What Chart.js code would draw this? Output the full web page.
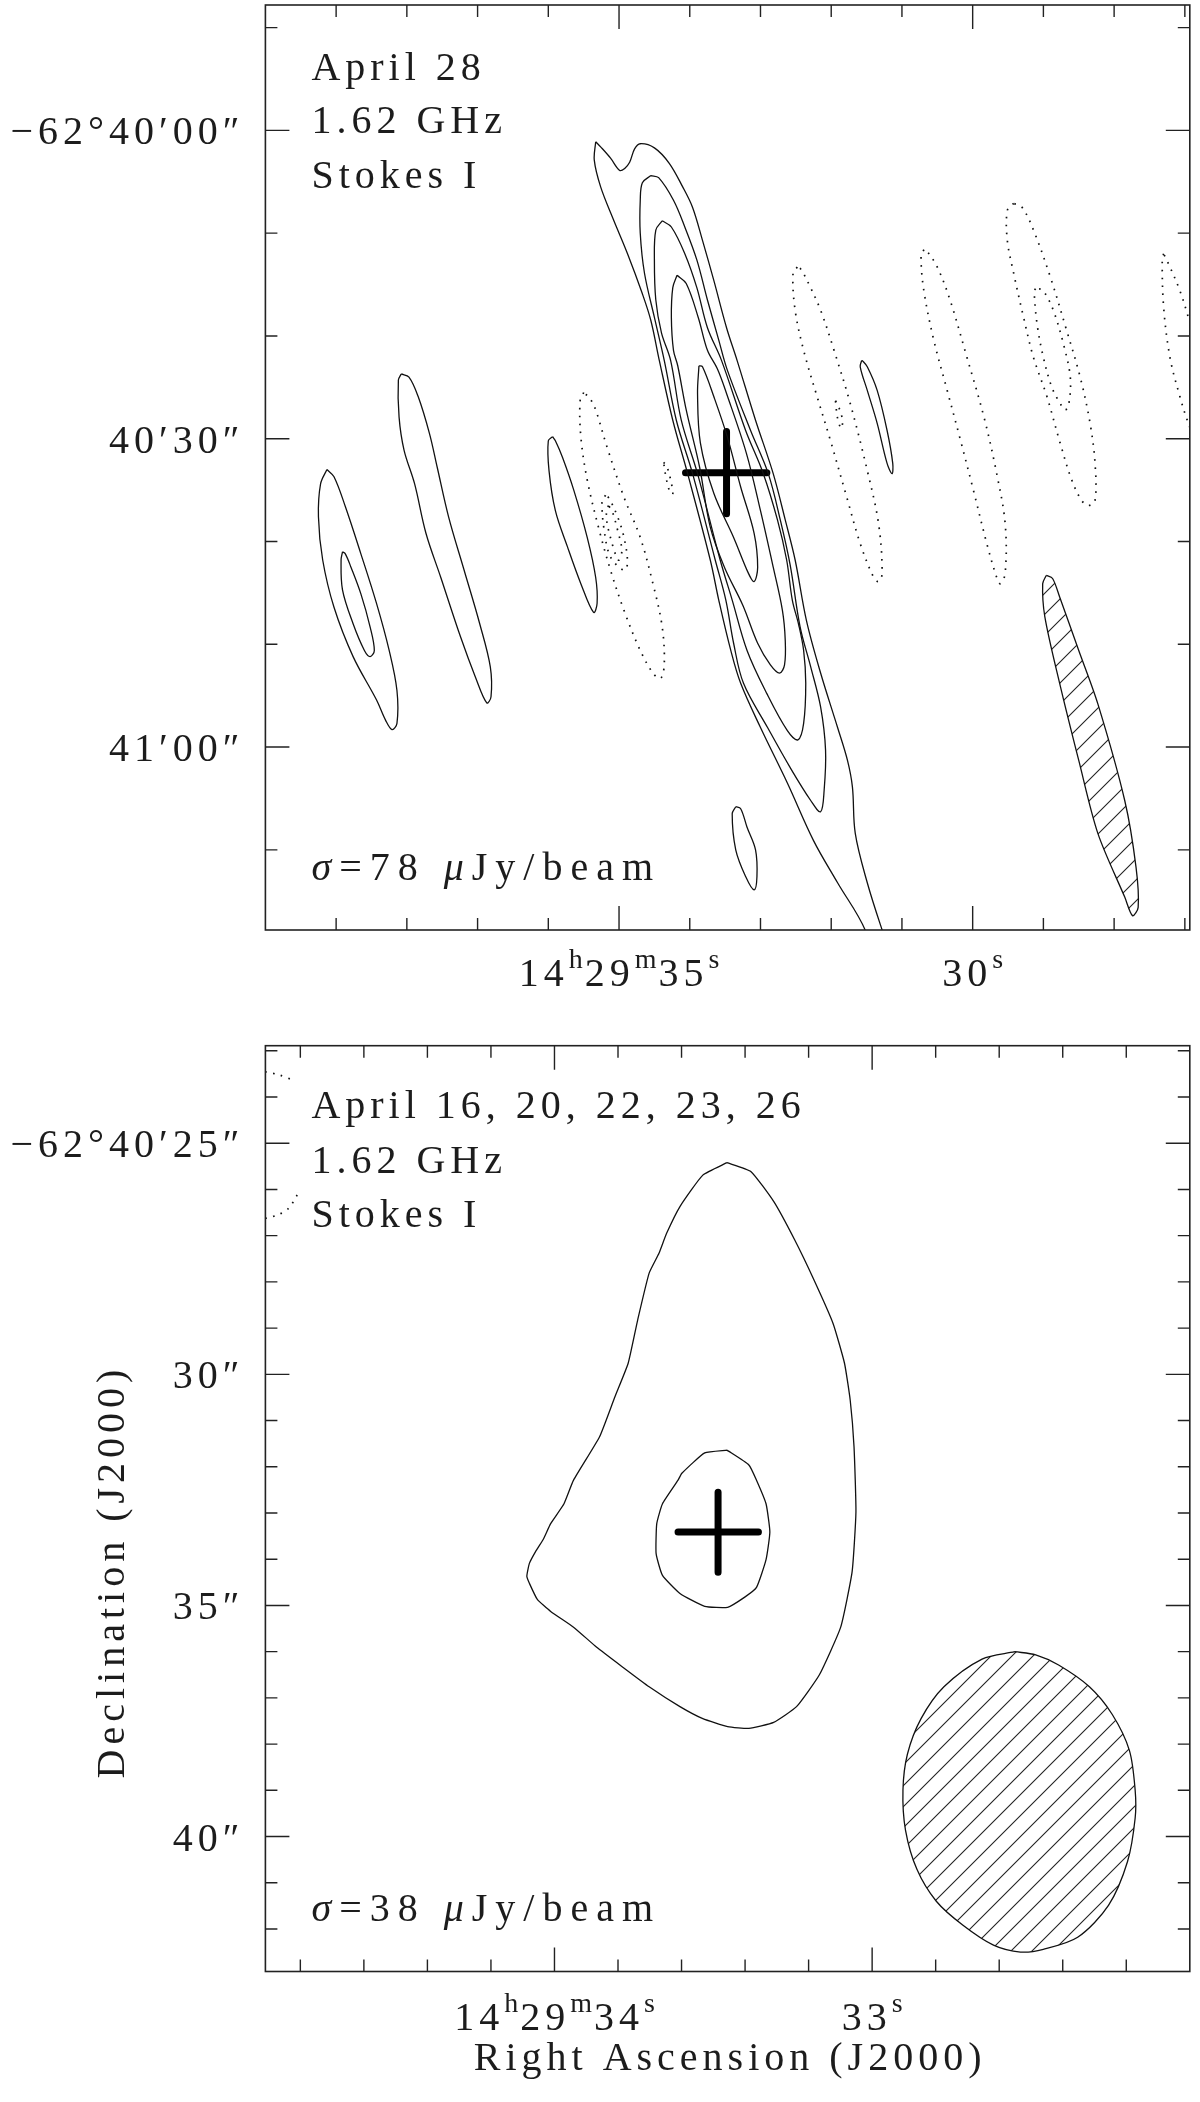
<!DOCTYPE html>
<html><head><meta charset="utf-8">
<script src="https://cdn.jsdelivr.net/npm/chart.js@4.4.0/dist/chart.umd.min.js"></script>
<style>
html,body{margin:0;padding:0;background:#fff;width:1200px;height:2102px;overflow:hidden}
canvas{position:absolute;left:0}
#c1{top:0}
#c2{top:1030px}
</style></head><body>
<canvas id="c1" width="1200" height="1030"></canvas>
<canvas id="c2" width="1200" height="1072"></canvas>
<script>
// ===== DATA: x = RA seconds (14h29m..s), y = Dec arcsec beyond -62°40' =====
// --- Top panel (April 28) positive contours ---
const topLevel1 = [[35.33,1.1],[35.26,1.6],[35.12,2.7],[34.99,3.9],[34.92,3.7],[34.85,3.1],[34.78,1.8],[34.70,1.3],[34.50,1.7],[34.29,3.2],[34.10,5.5],[33.96,7.5],[33.82,10.7],[33.66,14.6],[33.48,19.2],[33.33,22.4],[33.07,28.2],[32.82,33.4],[32.65,37.9],[32.51,41.8],[32.35,47.7],[32.15,52.8],[31.91,58.1],[31.77,61.3],[31.70,63.9],[31.66,68.4],[31.49,73.2],[31.28,77.8],[31.13,80.7],[31.45,80.7],[31.52,77.8],[31.91,73.2],[32.25,69.1],[32.62,63.5],[33.00,58.1],[33.28,53.8],[33.42,50.6],[33.59,45.7],[33.71,41.8],[34.03,33.4],[34.24,28.2],[34.43,22.4],[34.55,18.5],[34.67,15.9],[34.88,12.0],[35.09,8.5],[35.26,5.5],[35.35,2.9],[35.33,1.1]];
const topLevel2 = [[34.55,4.4],[34.44,4.6],[34.23,6.8],[34.07,9.4],[33.90,12.6],[33.75,16.5],[33.59,20.4],[33.47,23.3],[33.14,29.2],[32.89,33.4],[32.72,37.9],[32.58,42.3],[32.44,48.3],[32.29,52.2],[32.15,56.1],[32.08,60.3],[32.10,64.2],[32.15,66.3],[32.29,65.2],[32.58,62.0],[32.90,58.1],[33.24,53.8],[33.38,49.9],[33.49,45.7],[33.64,41.8],[33.96,33.4],[34.19,28.2],[34.36,22.4],[34.50,18.2],[34.64,13.9],[34.70,10.0],[34.70,6.8],[34.67,5.1],[34.55,4.4]];
const topLevel3 = [[34.39,8.8],[34.26,9.4],[34.07,12.0],[33.90,15.3],[33.75,19.2],[33.55,22.4],[33.21,29.2],[32.96,33.4],[32.76,37.9],[32.63,41.8],[32.55,45.7],[32.46,48.1],[32.39,50.6],[32.36,53.8],[32.39,57.7],[32.47,59.3],[32.62,58.4],[32.91,54.8],[33.19,50.6],[33.40,45.7],[33.57,41.8],[33.89,33.4],[34.12,28.2],[34.27,22.4],[34.40,19.7],[34.48,16.5],[34.50,12.6],[34.48,9.7],[34.39,8.8]];
const topLevel4 = [[34.18,14.1],[34.05,14.9],[33.88,18.2],[33.75,21.4],[33.61,23.2],[33.48,25.6],[33.20,31.4],[33.00,37.0],[32.82,42.5],[32.69,46.7],[32.65,49.6],[32.66,52.0],[32.73,52.8],[32.86,52.0],[33.04,49.9],[33.25,46.2],[33.51,42.5],[33.71,38.6],[33.86,32.8],[34.05,27.2],[34.17,22.9],[34.23,21.4],[34.26,18.2],[34.24,15.3],[34.18,14.1]];
const topLevel5 = [[33.87,22.9],[33.89,25.6],[33.85,30.4],[33.66,35.3],[33.38,39.6],[33.17,43.1],[33.09,43.9],[33.04,42.5],[33.09,39.2],[33.28,34.7],[33.47,29.8],[33.66,25.9],[33.82,23.0],[33.87,22.9]];
const topBlobSouth = [[33.35,65.8],[33.40,66.5],[33.35,70.0],[33.21,72.6],[33.09,73.9],[33.05,72.6],[33.07,70.0],[33.19,67.8],[33.28,66.0],[33.35,65.8]];
const topSideA1 = [[39.13,33.0],[39.22,34.4],[39.25,37.6],[39.19,41.8],[39.03,46.4],[38.76,51.2],[38.43,55.4],[38.30,57.4],[38.21,58.3],[38.14,57.7],[38.14,54.5],[38.25,50.6],[38.43,46.0],[38.65,41.2],[38.87,36.6],[39.03,33.7],[39.13,33.0]];
const topSideA2 = [[38.91,41.0],[38.93,41.8],[38.91,44.7],[38.76,48.0],[38.60,50.6],[38.52,51.2],[38.46,50.6],[38.52,48.3],[38.65,45.1],[38.79,42.5],[38.87,41.2],[38.91,41.0]];
const topSideB = [[38.08,23.7],[38.12,24.3],[38.11,27.9],[38.04,31.1],[37.89,34.4],[37.73,39.2],[37.52,43.5],[37.24,49.3],[37.03,53.2],[36.87,55.7],[36.81,55.1],[36.82,52.2],[36.97,48.0],[37.19,42.8],[37.41,37.6],[37.57,32.8],[37.68,29.5],[37.84,25.9],[37.97,24.0],[38.08,23.7]];
const topSideC = [[35.94,29.8],[36.00,30.2],[35.99,33.1],[35.90,37.0],[35.73,40.5],[35.54,44.1],[35.36,46.9],[35.31,46.0],[35.33,43.5],[35.45,39.6],[35.64,35.0],[35.80,31.8],[35.90,30.2],[35.94,29.8]];
const topSideD = [[31.57,22.4],[31.59,23.0],[31.49,25.3],[31.35,28.5],[31.21,32.4],[31.14,33.4],[31.13,32.4],[31.21,29.2],[31.35,25.3],[31.49,23.0],[31.56,22.4],[31.57,22.4]];
// --- Top panel negative (dotted) contours ---
const topNeg1 = [[35.50,25.5],[35.55,26.3],[35.54,29.8],[35.45,34.0],[35.28,38.9],[35.12,42.8],[34.93,46.7],[34.70,50.6],[34.51,52.9],[34.41,53.3],[34.36,51.9],[34.39,48.3],[34.51,44.4],[34.70,39.6],[34.93,35.7],[35.17,30.8],[35.33,27.2],[35.41,26.1],[35.50,25.5]];
const topNeg2 = [[35.19,35.5],[35.24,36.0],[35.21,38.9],[35.12,41.5],[34.93,42.8],[34.88,42.1],[34.93,39.6],[35.02,37.6],[35.14,35.8],[35.19,35.5]];
const topNeg3 = [[35.15,36.5],[35.18,37.5],[35.13,39.4],[35.01,41.8],[34.96,40.9],[35.02,38.9],[35.10,37.0],[35.15,36.5]];
const topNeg4 = [[34.37,32.3],[34.33,32.6],[34.27,34.0],[34.24,35.4],[34.29,35.0],[34.34,33.6],[34.37,32.3]];
const topNeg5 = [[32.48,13.3],[32.54,13.9],[32.51,17.5],[32.39,21.4],[32.20,25.9],[32.01,30.2],[31.78,35.7],[31.59,40.2],[31.40,43.5],[31.33,43.9],[31.28,43.1],[31.33,38.3],[31.49,33.1],[31.73,26.6],[31.96,21.4],[32.15,17.5],[32.32,14.9],[32.43,13.5],[32.48,13.3]];
const topNeg6 = [[31.94,26.3],[31.90,26.8],[31.84,28.2],[31.86,29.0],[31.91,28.0],[31.94,26.3]];
const topNeg7 = [[30.69,11.6],[30.73,12.3],[30.69,15.6],[30.55,20.4],[30.36,25.3],[30.17,30.2],[29.99,35.0],[29.80,40.2],[29.66,43.5],[29.61,44.1],[29.54,43.1],[29.54,38.3],[29.66,33.4],[29.84,27.9],[30.08,22.1],[30.32,16.5],[30.50,13.3],[30.64,11.8],[30.69,11.6]];
const topNeg8 = [[29.42,7.1],[29.51,7.8],[29.51,10.7],[29.42,13.9],[29.28,18.2],[29.14,22.1],[28.95,25.9],[28.76,30.5],[28.60,34.0],[28.46,36.0],[28.36,36.5],[28.27,36.0],[28.27,32.4],[28.34,28.5],[28.48,24.0],[28.67,19.5],[28.90,14.3],[29.14,9.7],[29.30,7.5],[29.42,7.1]];
const topNeg9 = [[29.11,15.4],[29.13,15.6],[29.09,18.8],[29.00,22.1],[28.88,25.0],[28.76,26.6],[28.69,27.2],[28.64,26.6],[28.62,24.0],[28.72,20.7],[28.86,17.5],[29.00,15.6],[29.07,15.4],[29.11,15.4]];
const topNeg10 = [[27.30,12.0],[27.32,12.6],[27.30,17.2],[27.21,22.1],[27.07,25.9],[26.95,28.5],[26.84,30.2],[26.76,28.2],[26.78,22.4],[26.95,18.2],[27.07,15.6],[27.21,13.3],[27.30,12.0]];
const topBeam = [[28.96,43.3],[29.01,44.1],[28.98,47.3],[28.77,53.8],[28.50,61.3],[28.23,68.4],[27.85,74.6],[27.74,76.4],[27.66,75.6],[27.69,71.7],[27.85,65.2],[28.23,55.8],[28.50,50.6],[28.77,45.4],[28.87,43.6],[28.96,43.3]];
const topCrossH = [[34.06,33.3],[32.91,33.3]];
const topCrossV = [[33.48,29.3],[33.48,37.3]];

// --- Bottom panel (April 16-26 combined) ---
const botLevel1 = [[33.457,25.42],[33.382,25.61],[33.310,26.26],[33.244,27.09],[33.183,27.96],[33.123,28.90],[33.087,29.76],[33.069,30.56],[33.057,31.57],[33.051,32.98],[33.063,34.27],[33.099,35.47],[33.166,36.50],[33.238,37.19],[33.310,37.53],[33.388,37.66],[33.455,37.62],[33.533,37.45],[33.605,37.19],[33.702,36.76],[33.786,36.33],[33.868,35.90],[33.940,35.47],[34.012,35.13],[34.054,34.87],[34.079,34.52],[34.087,34.37],[34.079,34.09],[34.060,33.84],[34.036,33.58],[34.012,33.23],[33.970,32.80],[33.940,32.29],[33.858,31.35],[33.810,30.49],[33.768,29.76],[33.738,28.82],[33.702,27.81],[33.671,27.38],[33.647,26.95],[33.605,26.37],[33.533,25.69],[33.457,25.42]];
const botLevel2 = [[33.457,31.64],[33.388,31.96],[33.364,32.29],[33.334,32.80],[33.322,33.41],[33.334,34.01],[33.364,34.61],[33.401,34.82],[33.455,35.04],[33.527,35.02],[33.605,34.74],[33.660,34.35],[33.680,33.88],[33.678,33.23],[33.660,32.80],[33.611,32.29],[33.599,32.14],[33.527,31.70],[33.457,31.64]];
const botNeg1 = [[34.935,23.41],[34.907,23.46],[34.867,23.52],[34.825,23.63]];
const botNeg2 = [[34.810,26.12],[34.819,26.23],[34.837,26.41],[34.867,26.54],[34.907,26.62],[34.935,26.66]];
const botBeam = [[32.551,36.00],[32.654,36.16],[32.774,36.76],[32.846,37.45],[32.889,38.22],[32.903,39.00],[32.895,39.86],[32.859,40.71],[32.798,41.40],[32.714,41.92],[32.618,42.35],[32.533,42.50],[32.461,42.44],[32.353,42.18],[32.256,41.49],[32.196,40.54],[32.172,39.60],[32.172,39.00],[32.190,38.14],[32.244,37.36],[32.316,36.76],[32.413,36.29],[32.485,36.07],[32.551,36.00]];
const botCrossH = [[33.611,33.41],[33.358,33.41]];
const botCrossV = [[33.485,32.55],[33.485,34.28]];

// --- Axes ticks and labels ---
const topRATicks = [39,38,37,36,35,34,33,32,31,30,29,28,27];
const topRAMajor = [35,30];
const topRALabels = ["14^h29^m35^s","30^s"];
const topDecTicks = [-10,0,10,20,30,40,50,60,70];
const topDecMajor = [0,30,60];
const topDecLabels = ["\u221262\u00b040\u203200\u2033","40\u203230\u2033","41\u203200\u2033"];
const botRATicks = [34.8,34.6,34.4,34.2,34.0,33.8,33.6,33.4,33.2,33.0,32.8,32.6,32.4,32.2];
const botRAMajor = [34,33];
const botRALabels = ["14^h29^m34^s","33^s"];
const botDecTicks = [23,24,25,26,27,28,29,30,31,32,33,34,35,36,37,38,39,40,41,42];
const botDecMajor = [25,30,35,40];
const botDecLabels = ["\u221262\u00b040\u203225\u2033","30\u2033","35\u2033","40\u2033"];
const topNotes = ["April 28","1.62 GHz","Stokes I"];
const topSigma = "_\u03c3=78 _\u03bcJy/beam";
const botNotes = ["April 16, 20, 22, 23, 26","1.62 GHz","Stokes I"];
const botSigma = "_\u03c3=38 _\u03bcJy/beam";
const xTitle = "Right Ascension (J2000)";
const yTitle = "Declination (J2000)";

// ===== rendering helpers =====
const FONT = '"Liberation Serif","DejaVu Serif",serif';
const TXT = {size:40, supSize:28, ls:5, supLs:2, supRaise:18};
// '^c' = superscript char, '_c' = italic char
function parseRich(s){
  const segs=[];
  for(let i=0;i<s.length;i++){
    const c=s[i];
    if(c==='^'){ segs.push({t:s[i+1],sup:true}); i++; }
    else if(c==='_'){ segs.push({t:s[i+1],it:true}); i++; }
    else { const last=segs[segs.length-1]; if(last && !last.sup && !last.it) last.t+=c; else segs.push({t:c}); }
  }
  return segs;
}
function richText(ctx,s,x,y,align,ls){
  const o=TXT; const segs=parseRich(s); const L=(ls===undefined)?o.ls:ls;
  const setF=g=>{ ctx.font=(g.it?'italic ':'')+(g.sup?o.supSize:o.size)+'px '+FONT; ctx.letterSpacing=(g.sup?o.supLs:L)+'px'; };
  const widths=segs.map(g=>{ setF(g); return ctx.measureText(g.t).width; });
  let total=widths.reduce((a,b)=>a+b,0);
  const lastG=segs[segs.length-1]; total-= lastG.sup?o.supLs:L;
  let cx = align==='right'? x-total : align==='center'? x-total/2 : x;
  ctx.textAlign='left'; ctx.textBaseline='alphabetic';
  segs.forEach((g,i)=>{ setF(g); ctx.fillText(g.t,cx,g.sup?y-o.supRaise:y); cx+=widths[i]; });
}
function makeFrame(cfg){
  return { id:'frame'+cfg.name, afterDatasetsDraw(chart){
    const ctx=chart.ctx, a=chart.chartArea, xs=chart.scales.x, ys=chart.scales.y;
    ctx.save();
    ctx.strokeStyle='#222'; ctx.fillStyle='#1c1c1c';
    ctx.lineWidth=1.6; ctx.strokeRect(a.left,a.top,a.right-a.left,a.bottom-a.top);
    ctx.lineWidth=1.4; ctx.beginPath();
    cfg.xTicks.forEach(v=>{ const p=xs.getPixelForValue(v); const L=cfg.xMajor.includes(v)?24:12;
      ctx.moveTo(p,a.top); ctx.lineTo(p,a.top+L); ctx.moveTo(p,a.bottom); ctx.lineTo(p,a.bottom-L); });
    cfg.yTicks.forEach(v=>{ const p=ys.getPixelForValue(v); const L=cfg.yMajor.includes(v)?24:12;
      ctx.moveTo(a.left,p); ctx.lineTo(a.left+L,p); ctx.moveTo(a.right,p); ctx.lineTo(a.right-L,p); });
    ctx.stroke();
    cfg.xMajor.forEach((v,i)=>richText(ctx,cfg.xLabels[i],xs.getPixelForValue(v),a.bottom+cfg.xLabelDy,'center'));
    cfg.yMajor.forEach((v,i)=>richText(ctx,cfg.yLabels[i],a.left-26,ys.getPixelForValue(v)+14,'right'));
    cfg.notes.forEach((s,i)=>richText(ctx,s,a.left+46,cfg.noteY[i],'left'));
    richText(ctx,cfg.sigma,a.left+46,cfg.sigmaY,'left',8);
    if(cfg.xTitle) richText(ctx,cfg.xTitle,(a.left+a.right)/2,cfg.xTitleY,'center');
    if(cfg.yTitle){ ctx.translate(cfg.yTitleX,cfg.yTitleY); ctx.rotate(-Math.PI/2); richText(ctx,cfg.yTitle,0,0,'center'); }
    ctx.restore();
  }};
}
function hatch(ctx){
  const s=21, t=document.createElement('canvas'); t.width=s; t.height=s;
  const g=t.getContext('2d'); g.strokeStyle='#222'; g.lineWidth=1.1; g.beginPath();
  g.moveTo(-2,s+2); g.lineTo(s+2,-2); g.moveTo(-2,2); g.lineTo(2,-2); g.moveTo(s-2,s+2); g.lineTo(s+2,s-2); g.stroke();
  return ctx.createPattern(t,'repeat');
}
const pts = arr => arr.map(p=>({x:p[0],y:p[1]}));
function solid(arr,t){ return {data:pts(arr),showLine:true,pointRadius:0,borderColor:'#111',borderWidth:1.3,tension:t,fill:false}; }
function dotted(arr,t){ return {data:pts(arr),showLine:true,pointRadius:0,borderColor:'#111',borderWidth:1.7,borderDash:[1.6,6.4],tension:t,fill:false}; }
function cross(arr){ return {data:pts(arr),showLine:true,pointRadius:0,borderColor:'#000',borderWidth:7,borderCapStyle:'round',tension:0,fill:false}; }
function beam(arr,ctx,t){ return {data:pts(arr),showLine:true,pointRadius:0,borderColor:'#111',borderWidth:1.3,tension:t,fill:'shape',backgroundColor:hatch(ctx)}; }
function baseOptions(pad,xr,yr){
  return { responsive:false, animation:false, devicePixelRatio:1, events:[],
    layout:{padding:pad},
    plugins:{legend:{display:false},tooltip:{enabled:false}},
    scales:{ x:{type:'linear',reverse:true,min:xr[0],max:xr[1],display:false},
             y:{type:'linear',reverse:true,min:yr[0],max:yr[1],display:false} } };
}

// ===== top chart =====
const c1=document.getElementById('c1'), x1=c1.getContext('2d');
const T=0.35;
new Chart(c1,{type:'scatter',
  data:{datasets:[
    beam(topBeam,x1,0.3),
    ...[topLevel1,topLevel2,topLevel3,topLevel4,topLevel5,topBlobSouth,topSideA1,topSideA2,topSideB,topSideC,topSideD].map(a=>solid(a,T)),
    ...[topNeg1,topNeg2,topNeg3,topNeg4,topNeg5,topNeg6,topNeg7,topNeg8,topNeg9,topNeg10].map(a=>dotted(a,T)),
    cross(topCrossH), cross(topCrossV)
  ]},
  options:baseOptions({left:265.4,top:5,right:10.2,bottom:100},[26.93,40.0],[-12.2,77.8]),
  plugins:[makeFrame({name:'top',xTicks:topRATicks,xMajor:topRAMajor,xLabels:topRALabels,xLabelDy:56,
    yTicks:topDecTicks,yMajor:topDecMajor,yLabels:topDecLabels,notes:topNotes,noteY:[80,133,188],sigma:topSigma,sigmaY:880})]
});
// ===== bottom chart =====
const c2=document.getElementById('c2'), x2=c2.getContext('2d');
new Chart(c2,{type:'scatter',
  data:{datasets:[
    beam(botBeam,x2,0.3),
    solid(botLevel1,0.15), solid(botLevel2,0.15),
    dotted(botNeg1,0.3), dotted(botNeg2,0.3),
    cross(botCrossH), cross(botCrossV)
  ]},
  options:baseOptions({left:265.4,top:15.7,right:10.2,bottom:130.5},[32.0,34.91],[22.89,42.92]),
  plugins:[makeFrame({name:'bot',xTicks:botRATicks,xMajor:botRAMajor,xLabels:botRALabels,xLabelDy:58,
    yTicks:botDecTicks,yMajor:botDecMajor,yLabels:botDecLabels,notes:botNotes,noteY:[88,143,197],sigma:botSigma,sigmaY:891,
    xTitle:xTitle,xTitleY:1040,yTitle:yTitle,yTitleX:124,yTitleY:544})]
});
</script></body></html>
